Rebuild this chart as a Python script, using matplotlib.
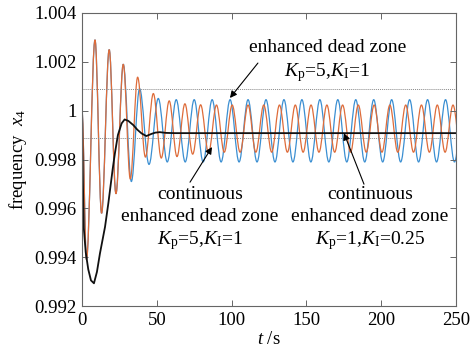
import matplotlib
matplotlib.use("Agg")
import matplotlib.pyplot as plt
from matplotlib.path import Path
from matplotlib.patches import PathPatch

plt.rcParams['font.family'] = ['Liberation Serif', 'DejaVu Serif']
plt.rcParams['mathtext.fontset'] = 'custom'
plt.rcParams['mathtext.rm'] = 'Liberation Serif'
plt.rcParams['mathtext.it'] = 'Liberation Serif:italic'

# ---- data (extrema) ----
blue_t = [0, 3.0, 8.7, 13.1, 18.2, 22.7, 27.6, 33.0, 38.5, 44.8, 51.0, 57.0, 63.0, 69.0,
          75.0, 81.0, 87.0, 93.0, 99.0, 105.0, 111.0, 117.0, 123.0, 129.0, 135.0, 141.0,
          147.0, 153.0, 159.0, 165.0, 171.0, 177.0, 183.0, 189.0, 195.0, 201.0, 207.0,
          213.0, 219.0, 225.0, 231.0, 237.0, 243.0, 249.0, 255.0]
blue_v = [1.0000, 0.9939, 1.0029, 0.9958, 1.0025, 0.9966, 1.0019, 0.9971, 1.0009, 0.9978,
          1.0005, 0.9979, 1.00045, 0.9979, 1.00045, 0.9979, 1.00045, 0.9979, 1.00045, 0.9979,
          1.00045, 0.9979, 1.00045, 0.9979, 1.00045, 0.9979, 1.00045, 0.9979, 1.00045, 0.9979,
          1.00045, 0.9979, 1.00045, 0.9979, 1.00045, 0.9979, 1.00045, 0.9979, 1.00045, 0.9979,
          1.00045, 0.9979, 1.00045, 0.9979, 1.00045]

orange_t = [0, 3.0, 8.7, 13.1, 18.2, 22.7, 27.6, 32.3, 37.2, 42.4, 47.7, 53.0, 58.3, 63.5,
            68.8, 74.0, 79.3, 84.6, 89.9, 95.1, 100.4, 105.7, 111.0, 116.2, 121.5, 126.8,
            132.0, 137.3, 142.6, 147.8, 153.1, 158.4, 163.7, 168.9, 174.2, 179.5, 184.7,
            190.0, 195.3, 200.5, 205.8, 211.1, 216.4, 221.6, 226.9, 232.2, 237.5, 242.7,
            248.0, 253.3]
orange_v = [1.0000, 0.9939, 1.0029, 0.9958, 1.0025, 0.9966, 1.0019, 0.9972, 1.00137, 0.9981,
            1.00070, 0.99806, 1.00040, 0.99812, 1.00028, 0.99822, 1.00024, 0.99828, 1.00023,
            0.9983, 1.00023, 0.9983, 1.00023, 0.9983, 1.00023, 0.9983, 1.00023, 0.9983,
            1.00023, 0.9983, 1.00023, 0.9983, 1.00023, 0.9983, 1.00023, 0.9983, 1.00023,
            0.9983, 1.00023, 0.9983, 1.00023, 0.9983, 1.00023, 0.9983, 1.00023, 0.9983,
            1.00023, 0.9983, 1.00023, 0.9983]

black_t = [0, 0.5, 1.2, 2.5, 4.2, 6.0, 8.0, 10.0, 12.0, 15.4, 17.6, 20.5, 22.0, 24.0, 26.5,
           28.5, 31.0, 34.3, 37.0, 39.8, 43.0, 46.5, 49.0, 52.0, 56.0, 62.0, 250.0]
black_v = [1.0001, 0.9975, 0.9952, 0.9942, 0.9935, 0.99305, 0.99293, 0.9934, 0.99415,
           0.99524, 0.9962, 0.9976, 0.99825, 0.9990, 0.99948, 0.99964, 0.99958, 0.99941,
           0.99922, 0.99907, 0.99896, 0.99905, 0.99910, 0.99912, 0.99909, 0.99908, 0.99908]

dead_zone = [1.0009, 0.9989]

xticks = [0, 50, 100, 150, 200, 250]
yticks = [0.992, 0.994, 0.996, 0.998, 1.0, 1.002, 1.004]
ytick_labels = ['0.992', '0.994', '0.996', '0.998', '1', '1.002', '1.004']


def smooth_path(ts, vs, k=0.36):
    verts = [(ts[0], vs[0])]
    codes = [Path.MOVETO]
    for i in range(1, len(ts)):
        t0, v0, t1, v1 = ts[i - 1], vs[i - 1], ts[i], vs[i]
        d = (t1 - t0) * k
        verts += [(t0 + d, v0), (t1 - d, v1), (t1, v1)]
        codes += [Path.CURVE4] * 3
    return Path(verts, codes)


fig = plt.figure(figsize=(4.75, 3.63), dpi=100)
ax = fig.add_axes([0.1726, 0.157, 0.7874, 0.8072])

for ts, vs, col in [(blue_t, blue_v, '#3b8fd2'), (orange_t, orange_v, '#de6c3a')]:
    ax.add_patch(PathPatch(smooth_path(ts, vs), facecolor='none', edgecolor=col,
                           lw=0.9, transform=ax.transData))

for y in dead_zone:
    ax.axhline(y, color='#888888', lw=0.7, ls=(0, (1, 1)))

ax.plot(black_t, black_v, color='#111111', lw=1.3)

ax.set_xlim(0, 250)
ax.set_ylim(0.992, 1.004)
ax.set_xticks(xticks)
ax.set_yticks(yticks)
ax.set_yticklabels(ytick_labels)
ax.tick_params(direction='in', length=4, width=0.7, colors='#666666', labelcolor='black',
               labelsize=13.5, top=True, right=True, pad=4)
for s in ax.spines.values():
    s.set_color('#666666')
    s.set_linewidth(0.8)

ax.set_xlabel('$t$ /s', fontsize=13.5, labelpad=2)
ax.set_ylabel('frequency  $x_4$', fontsize=13.5, labelpad=4)

fs = 14
ax.text(164.4, 1.00257, 'enhanced dead zone', ha='center', va='center', fontsize=fs)
ax.text(163.8, 1.00158, '$K_{\\mathrm{p}}$=5,$K_{\\mathrm{I}}$=1', ha='center', va='center', fontsize=fs)

ax.text(78.9, 0.99658, 'continuous', ha='center', va='center', fontsize=fs)
ax.text(78.9, 0.99568, 'enhanced dead zone', ha='center', va='center', fontsize=fs)
ax.text(78.9, 0.9947, '$K_{\\mathrm{p}}$=5,$K_{\\mathrm{I}}$=1', ha='center', va='center', fontsize=fs)

ax.text(192.5, 0.99658, 'continuous', ha='center', va='center', fontsize=fs)
ax.text(192.5, 0.99568, 'enhanced dead zone', ha='center', va='center', fontsize=fs)
ax.text(192.5, 0.9947, '$K_{\\mathrm{p}}$=1,$K_{\\mathrm{I}}$=0.25', ha='center', va='center', fontsize=fs)

ap = dict(arrowstyle='-|>', color='black', lw=0.8, mutation_scale=10, shrinkA=0, shrinkB=0)
ax.annotate('', xy=(98.9, 1.00052), xytext=(117.6, 1.00195), arrowprops=ap)
ax.annotate('', xy=(86.9, 0.99851), xytext=(72.2, 0.99707), arrowprops=ap)
ax.annotate('', xy=(175.1, 0.99908), xytext=(188.5, 0.99699), arrowprops=ap)

fig.savefig('out.png', dpi=100)
